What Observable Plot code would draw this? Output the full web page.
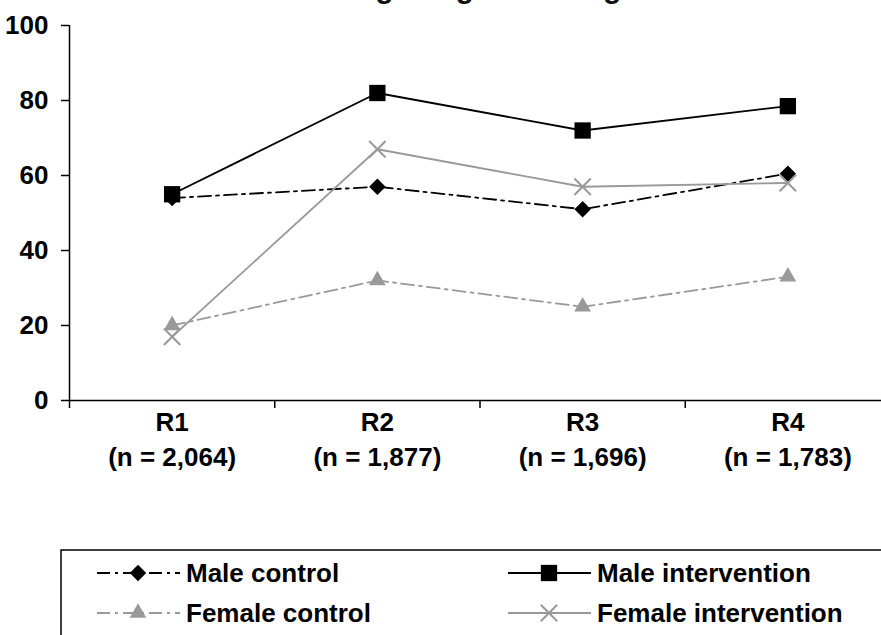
<!DOCTYPE html>
<html><head><meta charset="utf-8">
<script src="https://cdn.jsdelivr.net/npm/d3@7"></script>
<script src="https://cdn.jsdelivr.net/npm/@observablehq/plot@0.6"></script>
<style>
body{margin:0;background:#fff;}
#chart{width:881px;height:635px;overflow:hidden;position:relative;}
svg{overflow:hidden}
</style></head><body><div id="chart"></div>
<script>
const title = "Confident about getting and using condoms";
const rounds = ["R1","R2","R3","R4"];
const roundSizes = ["(n = 2,064)","(n = 1,877)","(n = 1,696)","(n = 1,783)"];
const yTicks = [0,20,40,60,80,100];
const seriesNames = ["Male control","Male intervention","Female control","Female intervention"];
const maleControl = [54,57,51,60.5];
const maleIntervention = [55,82,72,78.5];
const femaleControl = [20,32,25,33];
const femaleIntervention = [17,67,57,58];

const FONT = "'Liberation Sans', Arial, sans-serif";
const FS = 26;
const GRAY = "#999999";
const DASH = "13,5,3,5";
const styles = [
  {color:"#000", dash:DASH, symbol:"diamond2", r:7.4, filled:true},
  {color:"#000", dash:null, symbol:"square", r:9.2, filled:true},
  {color:GRAY, dash:DASH, symbol:"triangle", r:6.2, filled:true},
  {color:GRAY, dash:null, symbol:"times", r:7.5, filled:false}
];
const allValues = [maleControl, maleIntervention, femaleControl, femaleIntervention];
const series = seriesNames.map((name, s) => ({
  name, ...styles[s],
  data: allValues[s].map((v, i) => ({round: i, value: v, name}))
}));
const idx = rounds.map((_, i) => i);

const marks = [];
for (const s of series) {
  marks.push(Plot.line(s.data, {x:"round", y:"value", stroke:s.color, strokeWidth:1.8,
    strokeDasharray: s.dash || undefined}));
}
for (const s of series) {
  marks.push(Plot.dot(s.data, {x:"round", y:"value", symbol: () => s.symbol, r:s.r,
    fill: s.filled ? s.color : "none", stroke: s.filled ? "none" : s.color, strokeWidth: s.filled ? 0 : 2}));
}
marks.push(Plot.ruleY([0], {stroke:"#000", strokeWidth:1.5}));
marks.push(Plot.ruleX([-0.5], {stroke:"#000", strokeWidth:1.5}));
marks.push(Plot.text(idx, {x: d => d, frameAnchor:"bottom", lineAnchor:"middle", dy:22, text: d => rounds[d], fontWeight:"bold", fontSize:FS, fill:"#000"}));
marks.push(Plot.text(idx, {x: d => d, frameAnchor:"bottom", lineAnchor:"middle", dy:57, text: d => roundSizes[d], fontWeight:"bold", fontSize:FS, fill:"#000"}));

const chart = Plot.plot({
  width: 881, height: 635,
  marginLeft: 69, marginRight: 0, marginTop: 25, marginBottom: 235,
  style: {fontFamily: FONT, fontSize: FS + "px", fontWeight: "bold", color: "#000", background: "#fff", overflow: "hidden"},
  symbol: {type: "identity"},
  x: {type: "linear", domain: [-0.5, 3.5], range: [69, 890], ticks: [-0.5, 0.5, 1.5, 2.5], tickFormat: () => "", tickSize: 8, label: null},
  y: {domain: [0, 100], ticks: yTicks, tickSize: 8, tickPadding: 13, label: null},
  marks
});
chart.querySelectorAll("g[aria-label='x-axis'] line, g[aria-label='y-axis'] line, g[aria-label='x-axis tick'] path, g[aria-label='y-axis tick'] path").forEach(el => { el.setAttribute("stroke-width", "1.5"); });

const svg = d3.select(chart);
svg.append("text").attr("x", 451).attr("y", -2).attr("text-anchor", "middle")
  .attr("font-size", 29.5).attr("font-weight", "bold").attr("fill", "#111").attr("font-family", FONT).text(title);

// legend
const lg = svg.append("g").attr("text-anchor", "start");
lg.append("rect").attr("x", 61).attr("y", 550).attr("width", 900).attr("height", 200)
  .attr("fill", "none").attr("stroke", "#000").attr("stroke-width", 1.5);
const symMap = {diamond2: d3.symbolDiamond2, square: d3.symbolSquare, triangle: d3.symbolTriangle, times: d3.symbolTimes};
const cols = [97, 508], rowsY = [573, 613];
series.forEach((s, k) => {
  const x0 = cols[k % 2], y0 = rowsY[Math.floor(k / 2)];
  lg.append("line").attr("x1", x0).attr("x2", x0 + 83).attr("y1", y0).attr("y2", y0)
    .attr("stroke", s.color).attr("stroke-width", 1.8).attr("stroke-dasharray", s.dash);
  lg.append("path").attr("transform", `translate(${x0 + 41},${y0})`)
    .attr("d", d3.symbol(symMap[s.symbol], Math.PI * s.r * s.r)())
    .attr("fill", s.filled ? s.color : "none").attr("stroke", s.filled ? "none" : s.color).attr("stroke-width", 2);
  lg.append("text").attr("x", x0 + 89).attr("y", y0).attr("dy", "0.35em").attr("text-anchor", "start")
    .attr("font-size", FS).attr("font-weight", "bold").attr("font-family", FONT).attr("fill", "#000").text(s.name);
});
document.getElementById("chart").appendChild(chart);
</script></body></html>
